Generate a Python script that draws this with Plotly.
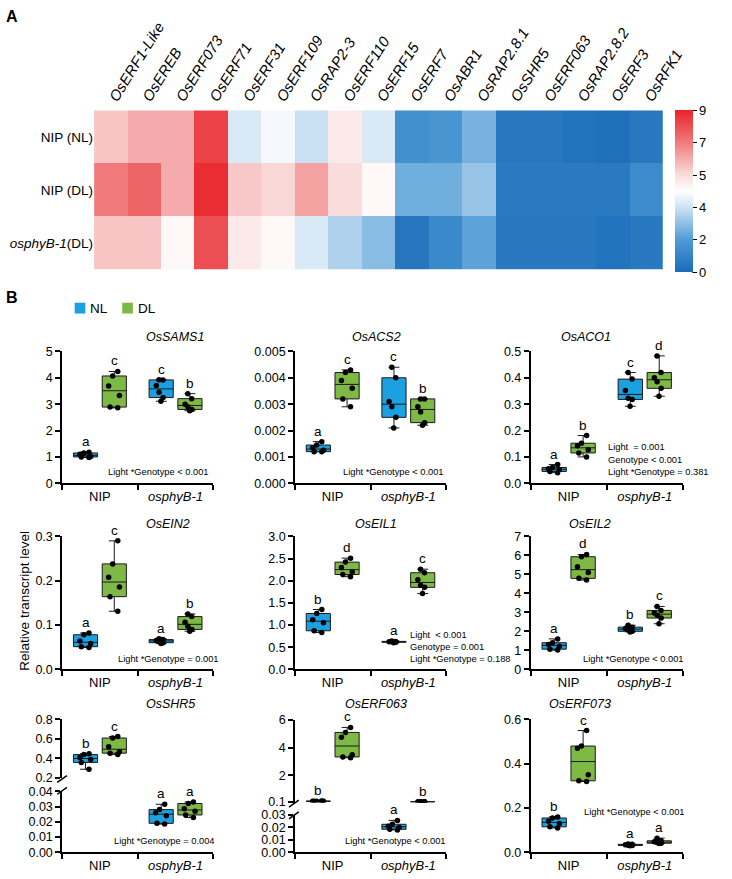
import numpy as np
import plotly.graph_objects as go

W, H = 732, 879
FONT = "Liberation Sans, Arial, sans-serif"
BLUE = "#1BA1E2"
GREEN = "#7DB944"
LINE = "#1a1a1a"

# ---------------- Panel A data ----------------
heat_genes = ["OsERF1-Like", "OsEREB", "OsERF073", "OsERF71", "OsERF31", "OsERF109",
              "OsRAP2-3", "OsERF110", "OsERF15", "OsERF7", "OsABR1", "OsRAP2.8.1",
              "OsSHR5", "OsERF063", "OsRAP2.8.2", "OsERF3", "OsRFK1"]
heat_rows = ["NIP (NL)", "NIP (DL)", "<i>osphyB-1</i>(DL)"]
heat_nip_nl = [5.5, 6.0, 6.0, 8.3, 4.1, 4.4, 3.9, 4.8, 4.1, 1.5, 1.7, 2.6, 0.5, 0.5, 0.3, 0.2, 0.5]
heat_nip_dl = [7.0, 7.5, 6.0, 8.8, 5.4, 5.1, 6.2, 5.0, 4.6, 2.5, 2.5, 3.1, 0.6, 0.6, 0.6, 0.6, 1.3]
heat_phyb_dl = [5.5, 5.5, 4.6, 8.0, 4.8, 4.6, 4.1, 3.5, 2.9, 0.4, 1.2, 2.2, 0.5, 0.5, 0.5, 0.3, 0.5]
cbar_ticks = [0, 2, 4, 5, 7, 9]

# ---------------- Panel B data (NIP NL, NIP DL, osphyB-1 NL, osphyB-1 DL) ----------------
groups = ["NIP", "osphyB-1"]
group_labels = ["NIP", "<i>osphyB-1</i>"]

sams1_nip_nl = [0.98, 1.00, 1.02, 1.10, 1.15, 1.18]
sams1_nip_dl = [4.24, 4.07, 3.69, 3.33, 2.89, 2.86]
sams1_phyb_nl = [3.93, 3.92, 3.71, 3.45, 3.25, 3.11]
sams1_phyb_dl = [3.40, 3.21, 3.00, 2.90, 2.80, 2.75]

acs2_nip_nl = [0.00158, 0.00145, 0.00135, 0.00125, 0.00120, 0.00120]
acs2_nip_dl = [0.0043, 0.0042, 0.0039, 0.0036, 0.0032, 0.0029]
acs2_phyb_nl = [0.0044, 0.0040, 0.0031, 0.0029, 0.0025, 0.0021]
acs2_phyb_dl = [0.0032, 0.0032, 0.0029, 0.0027, 0.0023, 0.0022]

aco1_nip_nl = [0.071, 0.060, 0.055, 0.052, 0.045, 0.040]
aco1_nip_dl = [0.181, 0.152, 0.142, 0.127, 0.115, 0.100]
aco1_phyb_nl = [0.420, 0.395, 0.352, 0.322, 0.318, 0.292]
aco1_phyb_dl = [0.483, 0.420, 0.400, 0.385, 0.360, 0.330]

ein2_nip_nl = [0.082, 0.078, 0.064, 0.058, 0.051, 0.049]
ein2_nip_dl = [0.290, 0.238, 0.208, 0.186, 0.164, 0.131]
ein2_phyb_nl = [0.069, 0.067, 0.065, 0.063, 0.060, 0.058]
ein2_phyb_dl = [0.125, 0.119, 0.106, 0.097, 0.090, 0.086]

eil1_nip_nl = [1.35, 1.26, 1.12, 1.05, 0.87, 0.83]
eil1_nip_dl = [2.51, 2.42, 2.30, 2.20, 2.14, 2.09]
eil1_phyb_nl = [0.64, 0.63, 0.62, 0.62, 0.61, 0.60]
eil1_phyb_dl = [2.26, 2.18, 2.02, 1.90, 1.85, 1.71]

eil2_nip_nl = [1.60, 1.40, 1.30, 1.22, 1.06, 1.01]
eil2_nip_dl = [6.05, 5.93, 5.40, 5.10, 4.79, 4.70]
eil2_phyb_nl = [2.32, 2.22, 2.15, 2.08, 2.00, 1.97]
eil2_phyb_dl = [3.31, 3.10, 2.96, 2.85, 2.70, 2.40]

shr5_nip_nl = [0.45, 0.44, 0.41, 0.39, 0.36, 0.29]
shr5_nip_dl = [0.625, 0.61, 0.52, 0.47, 0.455, 0.44]
shr5_phyb_nl = [0.0315, 0.028, 0.026, 0.024, 0.019, 0.0185]
shr5_phyb_dl = [0.033, 0.032, 0.0285, 0.027, 0.0245, 0.0228]

erf063_nip_nl = [0.16, 0.155, 0.15, 0.15, 0.145, 0.14]
erf063_nip_dl = [5.45, 5.09, 4.74, 3.49, 3.33, 3.28]
erf063_phyb_nl = [0.0256, 0.0225, 0.021, 0.020, 0.0185, 0.018]
erf063_phyb_dl = [0.11, 0.108, 0.106, 0.105, 0.104, 0.103]

erf073_nip_nl = [0.16, 0.155, 0.14, 0.13, 0.115, 0.11]
erf073_nip_dl = [0.55, 0.48, 0.47, 0.35, 0.323, 0.32]
erf073_phyb_nl = [0.038, 0.036, 0.034, 0.032, 0.031, 0.030]
erf073_phyb_dl = [0.064, 0.052, 0.048, 0.044, 0.041, 0.040]

def xd(a, b):
    return [a / W, b / W]

def yd(top, bot):
    return [1 - bot / H, 1 - top / H]

fig = go.Figure()
layout = dict(width=W, height=H, margin=dict(l=0, r=0, t=0, b=0), autosize=False,
              paper_bgcolor="white", plot_bgcolor="white", showlegend=False,
              font=dict(family=FONT, color="black", size=12),
              boxmode="group", boxgap=0.24, boxgroupgap=0.16)
annotations = []
shapes = []

# ---------------- Panel A: heatmap ----------------
def tmap(v):
    return np.interp(v, cbar_ticks, np.arange(len(cbar_ticks)))

z = np.array([tmap(heat_nip_nl), tmap(heat_nip_dl), tmap(heat_phyb_dl)])
colorscale = [[0.0, "#1a6cb8"], [0.2, "#509cd6"], [0.4, "#cfe3f3"], [0.5, "#ffffff"],
              [0.6, "#fadcdc"], [0.8, "#f07a7c"], [1.0, "#e8242a"]]
fig.add_trace(go.Heatmap(
    z=z, x=list(range(len(heat_genes))), y=list(range(len(heat_rows))),
    zmin=0, zmax=len(cbar_ticks) - 1, colorscale=colorscale, hoverinfo="skip",
    xaxis="x", yaxis="y",
    colorbar=dict(x=695.7 / W, xanchor="left", y=1 - 105 / H, yanchor="top",
                  len=165 / H, lenmode="fraction", thickness=18, xpad=0, ypad=0,
                  outlinewidth=0, tickvals=list(range(len(cbar_ticks))),
                  ticktext=[str(t) for t in cbar_ticks], ticks="outside", ticklen=4,
                  tickwidth=1, tickcolor="black", tickfont=dict(size=13, family=FONT))))
layout["xaxis"] = dict(domain=xd(97, 683.3), anchor="y", side="top", range=[-0.5, len(heat_genes) - 0.5],
                       tickvals=list(range(len(heat_genes))),
                       ticktext=[f"<i>{g}</i>" for g in heat_genes], tickangle=-58,
                       ticks="", showgrid=False, zeroline=False, showline=False,
                       tickfont=dict(size=15))
layout["yaxis"] = dict(domain=yd(105, 267), anchor="x", range=[len(heat_rows) - 0.5, -0.5],
                       tickvals=list(range(len(heat_rows))), ticktext=heat_rows, ticks="",
                       showgrid=False, zeroline=False, showline=False, tickfont=dict(size=13.5))
shapes.append(dict(type="line", xref="paper", yref="paper", x0=713.8 / W, x1=713.8 / W,
                   y0=1 - 105 / H, y1=1 - 270 / H, line=dict(color="black", width=1)))

# ---------------- Panel B: box plots ----------------
col_x = [(64, 220), (304, 460), (547, 704)]
row_y = [(350, 484), (538, 673), (724, 859)]

panels = [
    dict(gene="OsSAMS1", col=0, row=0, data=(sams1_nip_nl, sams1_nip_dl, sams1_phyb_nl, sams1_phyb_dl),
         letters=("a", "c", "c", "b"), segs=[dict(range=[0, 5], dtick=1, fmt=".0f")]),
    dict(gene="OsACS2", col=1, row=0, data=(acs2_nip_nl, acs2_nip_dl, acs2_phyb_nl, acs2_phyb_dl),
         letters=("a", "c", "c", "b"), segs=[dict(range=[0, 0.005], dtick=0.001, fmt=".3f")]),
    dict(gene="OsACO1", col=2, row=0, data=(aco1_nip_nl, aco1_nip_dl, aco1_phyb_nl, aco1_phyb_dl),
         letters=("a", "b", "c", "d"), segs=[dict(range=[0, 0.5], dtick=0.1, fmt=".1f")]),
    dict(gene="OsEIN2", col=0, row=1, data=(ein2_nip_nl, ein2_nip_dl, ein2_phyb_nl, ein2_phyb_dl),
         letters=("a", "c", "a", "b"), segs=[dict(range=[0, 0.3], dtick=0.1, fmt=".1f")]),
    dict(gene="OsEIL1", col=1, row=1, data=(eil1_nip_nl, eil1_nip_dl, eil1_phyb_nl, eil1_phyb_dl),
         letters=("b", "d", "a", "c"), segs=[dict(range=[0, 3], dtick=0.5, fmt=".1f")]),
    dict(gene="OsEIL2", col=2, row=1, data=(eil2_nip_nl, eil2_nip_dl, eil2_phyb_nl, eil2_phyb_dl),
         letters=("a", "d", "b", "c"), segs=[dict(range=[0, 7], dtick=1, fmt=".0f")]),
    dict(gene="OsSHR5", col=0, row=2, data=(shr5_nip_nl, shr5_nip_dl, shr5_phyb_nl, shr5_phyb_dl),
         letters=("b", "c", "a", "a"),
         segs=[dict(range=[0.2, 0.8], dtick=0.2, fmt=".1f", px=(724, 783.5)),
               dict(range=[0, 0.04], dtick=0.01, fmt=".2f", px=(797, 859))]),
    dict(gene="OsERF063", col=1, row=2, data=(erf063_nip_nl, erf063_nip_dl, erf063_phyb_nl, erf063_phyb_dl),
         letters=("b", "c", "a", "b"),
         segs=[dict(range=[0.05, 6], tickvals=[0.1, 2, 4, 6], ticktext=["0.1", "2", "4", "6"], px=(724.3, 808.5)),
               dict(range=[0, 0.03], dtick=0.01, fmt=".2f", px=(821, 859))]),
    dict(gene="OsERF073", col=2, row=2, data=(erf073_nip_nl, erf073_nip_dl, erf073_phyb_nl, erf073_phyb_dl),
         letters=("b", "c", "a", "a"), segs=[dict(range=[0, 0.6], dtick=0.2, fmt=".1f")]),
]

OFF = (1 - layout["boxgap"]) / 4

def fits(vals, rng):
    return rng[0] <= min(vals) and max(vals) <= rng[1]

xi, yi = 2, 2
for p in panels:
    xname = f"x{xi}"
    x0, x1 = col_x[p["col"]]
    nip_nl, nip_dl, phyb_nl, phyb_dl = p["data"]
    series = [("NL", BLUE, nip_nl, phyb_nl), ("DL", GREEN, nip_dl, phyb_dl)]
    ynames = []
    seg_of_group = {}
    for si, seg in enumerate(p["segs"]):
        yname = f"y{yi}"
        ynames.append(yname)
        top, bot = seg.get("px", row_y[p["row"]])
        yax = dict(domain=yd(top, bot), anchor=xname, range=seg["range"], showline=True,
                   linecolor="black", linewidth=1.5, ticks="outside", ticklen=5, tickwidth=1.5,
                   tickcolor="black", showgrid=False, zeroline=False, tickfont=dict(size=12.5))
        if "tickvals" in seg:
            yax.update(tickvals=seg["tickvals"], ticktext=seg["ticktext"])
        else:
            yax.update(tick0=0, dtick=seg["dtick"], tickformat=seg["fmt"])
        layout[f"yaxis{yi}"] = yax
        for name, color, a, b in series:
            xs, ys = [], []
            for gname, v in ((groups[0], a), (groups[1], b)):
                if fits(v, seg["range"]):
                    xs += [gname] * len(v)
                    ys += list(v)
                    seg_of_group[(name, gname)] = yname
            if not ys:
                continue
            fig.add_trace(go.Box(
                x=xs, y=ys, name=name, offsetgroup=name, xaxis=xname, yaxis=yname,
                fillcolor=color, line=dict(color=LINE, width=1),
                marker=dict(color="black", size=5.5), boxpoints="all", jitter=0.55,
                pointpos=0, whiskerwidth=0.45, quartilemethod="exclusive",
                hoverinfo="skip"))
        yi += 1
    layout[f"xaxis{xi}"] = dict(domain=xd(x0, x1), anchor=ynames[-1], type="category",
                                categoryorder="array", categoryarray=groups, range=[-0.5, 1.5],
                                tickvals=groups, ticktext=group_labels, showline=True,
                                linecolor="black", linewidth=1.5, ticks="outside",
                                tickson="boundaries", ticklen=5, tickwidth=1.5, tickcolor="black",
                                showgrid=False, zeroline=False, tickfont=dict(size=13))
    # significance letters
    keys = [("NL", groups[0]), ("DL", groups[0]), ("NL", groups[1]), ("DL", groups[1])]
    vals = [nip_nl, nip_dl, phyb_nl, phyb_dl]
    poss = [0 - OFF, 0 + OFF, 1 - OFF, 1 + OFF]
    for k, v, pos, let in zip(keys, vals, poss, p["letters"]):
        annotations.append(dict(x=pos, y=max(v), xref=xname, yref=seg_of_group.get(k, ynames[-1]),
                                text=let, showarrow=False, yanchor="bottom", yshift=1,
                                font=dict(size=13.5)))
    # gene title
    annotations.append(dict(x=((x0 + x1) / 2 + 6) / W, y=1 - [335, 525, 708][p["row"]] / H,
                            xref="paper", yref="paper", text=f"<i>{p['gene']}</i>",
                            yanchor="middle", showarrow=False, font=dict(size=12.5)))
    xi += 1

# statistics text
stat_font = dict(size=9.3)
stats_right = [("Light *Genotype < 0.001", 218, 473), ("Light *Genotype < 0.001", 460, 473),
               ("Light *Genotype = 0.001", 228, 663), ("Light *Genotype < 0.001", 707, 663),
               ("Light *Genotype = 0.004", 224, 848), ("Light *Genotype < 0.001", 462, 848),
               ("Light *Genotype < 0.001", 708, 818)]
for t, xx, yy in stats_right:
    annotations.append(dict(x=xx / W, y=1 - yy / H, xref="paper", yref="paper", text=t,
                            xanchor="right", yanchor="middle", showarrow=False, font=stat_font))
stats_left = [("Light&nbsp; = 0.001", 625, 447), ("Genotype < 0.001", 625, 460),
              ("Light *Genotype = 0.381", 625, 473),
              ("Light&nbsp; < 0.001", 421, 638), ("Genotype = 0.001", 421, 650.5),
              ("Light *Genotype = 0.188", 421, 663)]
for t, xx, yy in stats_left:
    annotations.append(dict(x=xx / W, y=1 - yy / H, xref="paper", yref="paper", text=t,
                            xanchor="left", yanchor="middle", showarrow=False, font=stat_font))

# axis break marks
for (ax0, ay0, ax1, ay1) in [(59, 788, 69, 781), (59, 800, 69, 793),
                             (298, 813, 308, 806), (298, 825, 308, 818)]:
    shapes.append(dict(type="line", xref="paper", yref="paper", x0=ax0 / W, y0=1 - ay0 / H,
                       x1=ax1 / W, y1=1 - ay1 / H, line=dict(color="black", width=1.5)))

# legend (manual)
for (sx, col, lab) in [(77, BLUE, "NL"), (126, GREEN, "DL")]:
    shapes.append(dict(type="rect", xref="paper", yref="paper", x0=sx / W, x1=(sx + 11) / W,
                       y0=1 - 311.5 / H, y1=1 - 300.5 / H, fillcolor=col, line=dict(width=0)))
    annotations.append(dict(x=(sx + 14) / W, y=1 - 306 / H, xref="paper", yref="paper", text=lab,
                            xanchor="left", yanchor="middle", showarrow=False, font=dict(size=13.5)))

# y title
annotations.append(dict(x=25 / W, y=1 - 603 / H, xref="paper", yref="paper",
                        text="Relative transcript level", textangle=-90, showarrow=False,
                        xanchor="center", yanchor="middle", font=dict(size=13.5)))
# panel letters
annotations.append(dict(x=4 / W, y=1 - 10 / H, xref="paper", yref="paper", text="<b>A</b>",
                        xanchor="left", yanchor="middle", showarrow=False, font=dict(size=16)))
annotations.append(dict(x=4 / W, y=1 - 295 / H, xref="paper", yref="paper", text="<b>B</b>",
                        xanchor="left", yanchor="middle", showarrow=False, font=dict(size=16)))

layout["annotations"] = annotations
layout["shapes"] = shapes
fig.update_layout(**layout)
fig.write_html("out.html", config={"displayModeBar": False},
               post_script="document.body.style.margin='0px';document.body.style.padding='0px';")
